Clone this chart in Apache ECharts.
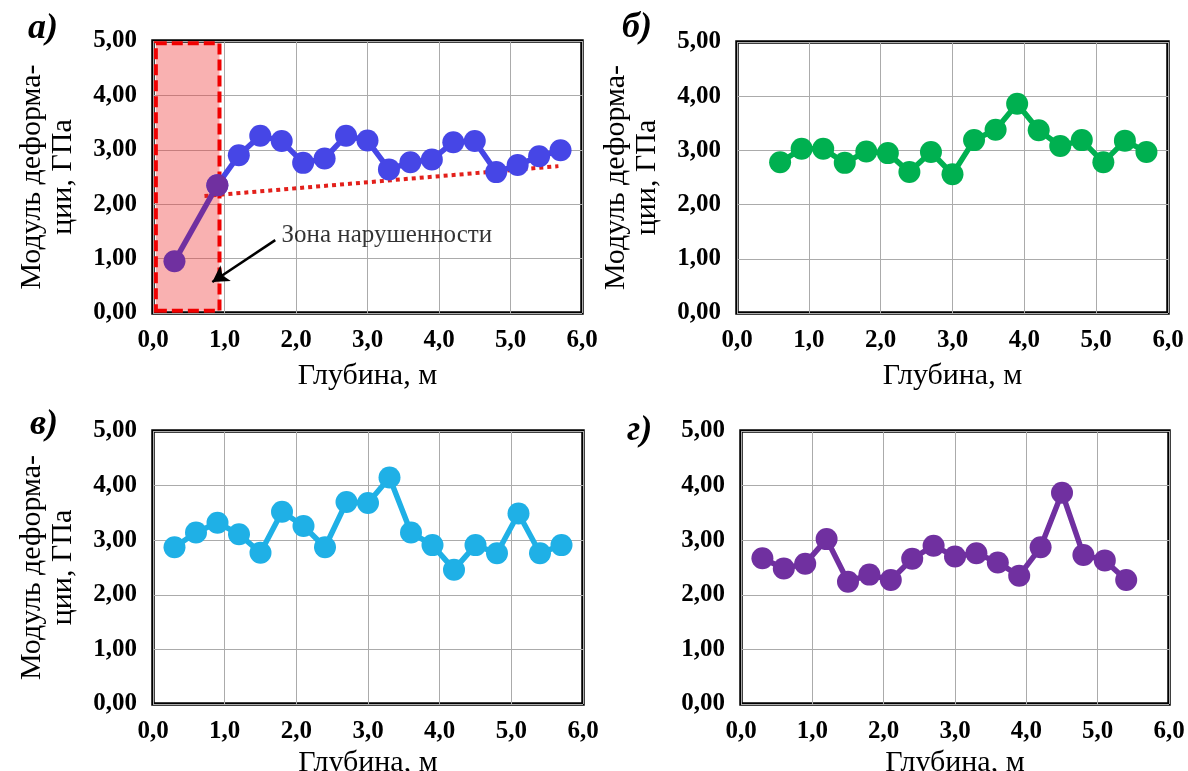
<!DOCTYPE html>
<html>
<head>
<meta charset="utf-8">
<script src="https://cdn.jsdelivr.net/npm/echarts@6/dist/echarts.min.js"></script>
<style>
html, body { margin: 0; padding: 0; background: #fff; }
#chart { width: 1188px; height: 771px; }
</style>
</head>
<body>
<div id="chart"></div>
<script>
// подписи делений
var xTickLabels = ["0,0", "1,0", "2,0", "3,0", "4,0", "5,0", "6,0"];
var yTickLabels = ["0,00", "1,00", "2,00", "3,00", "4,00", "5,00"];

// а) зона нарушенности + основной участок
var depthA1 = [0.3, 0.9];
var valuesA1 = [0.95, 2.35];
var depthA2 = [0.9, 1.2, 1.5, 1.8, 2.1, 2.4, 2.7, 3.0, 3.3, 3.6, 3.9, 4.2, 4.5, 4.8, 5.1, 5.4, 5.7];
var valuesA2 = [2.35, 2.90, 3.26, 3.16, 2.76, 2.84, 3.26, 3.17, 2.64, 2.77, 2.82, 3.14, 3.16, 2.59, 2.72, 2.88, 2.99];
var trendDepth = [0.72, 5.67];
var trendValues = [2.15, 2.70];
var zoneDepth = [0.04, 0.93];

// б)
var depthB = [0.6, 0.9, 1.2, 1.5, 1.8, 2.1, 2.4, 2.7, 3.0, 3.3, 3.6, 3.9, 4.2, 4.5, 4.8, 5.1, 5.4, 5.7];
var valuesB = [2.78, 3.03, 3.03, 2.77, 2.98, 2.95, 2.60, 2.97, 2.56, 3.19, 3.38, 3.86, 3.37, 3.08, 3.19, 2.78, 3.18, 2.97];

// в)
var depthC = [0.3, 0.6, 0.9, 1.2, 1.5, 1.8, 2.1, 2.4, 2.7, 3.0, 3.3, 3.6, 3.9, 4.2, 4.5, 4.8, 5.1, 5.4, 5.7];
var valuesC = [2.87, 3.14, 3.32, 3.11, 2.77, 3.52, 3.26, 2.87, 3.70, 3.68, 4.15, 3.14, 2.91, 2.46, 2.91, 2.76, 3.49, 2.76, 2.91];

// г)
var depthD = [0.3, 0.6, 0.9, 1.2, 1.5, 1.8, 2.1, 2.4, 2.7, 3.0, 3.3, 3.6, 3.9, 4.2, 4.5, 4.8, 5.1, 5.4];
var valuesD = [2.67, 2.48, 2.57, 3.02, 2.24, 2.37, 2.27, 2.66, 2.90, 2.70, 2.76, 2.59, 2.35, 2.87, 3.87, 2.73, 2.63, 2.27];

var FONT = "'Liberation Serif', 'Times New Roman', serif";

function pairs(xs, ys) {
	return xs.map(function(x, i) { return [x, ys[i]]; });
}

var grids = [
	{ left: 153, top: 41, width: 429, height: 272 },
	{ left: 737, top: 42, width: 431, height: 271 },
	{ left: 153, top: 431, width: 430, height: 273 },
	{ left: 741, top: 431, width: 428, height: 273 }
];

var xAxes = [];
var yAxes = [];
grids.forEach(function(g, i) {
	g.show = true;
	g.borderColor = "#000";
	g.borderWidth = 3.5;
	g.backgroundColor = "#fff";
	g.outerBoundsMode = "none";
	g.containLabel = false;
	xAxes.push({
		gridIndex: i, type: "value", min: 0, max: 6, interval: 1,
		name: "Глубина, м", nameLocation: "middle", nameGap: i < 2 ? 48 : 44,
		nameTextStyle: { fontFamily: FONT, fontSize: 30, color: "#000" },
		axisLine: { show: false }, axisTick: { show: false },
		axisLabel: {
			fontFamily: FONT, fontSize: 25, fontWeight: "bold", color: "#000", margin: 15,
			formatter: function(v) { return xTickLabels[Math.round(v)]; }
		},
		splitLine: { show: true, lineStyle: { color: "#ababab", width: 1 } }
	});
	yAxes.push({
		gridIndex: i, type: "value", min: 0, max: 5, interval: 1,
		name: i === 3 ? "" : "Модуль деформа-\nции, ГПа",
		nameLocation: "middle", nameGap: 74, nameRotate: 90,
		nameTextStyle: { fontFamily: FONT, fontSize: 30, color: "#000", lineHeight: 31, align: "center" },
		axisLine: { show: false }, axisTick: { show: false },
		axisLabel: {
			fontFamily: FONT, fontSize: 25, fontWeight: "bold", color: "#000", margin: 16,
			formatter: function(v) { return yTickLabels[Math.round(v)]; }
		},
		splitLine: { show: true, lineStyle: { color: "#ababab", width: 1 } }
	});
});

function lineSeries(idx, data, color, z) {
	return {
		type: "line", xAxisIndex: idx, yAxisIndex: idx, data: data,
		symbol: "circle", symbolSize: 22, z: z || 3,
		lineStyle: { color: color, width: 5.5 },
		itemStyle: { color: color },
		emphasis: { disabled: true },
		animation: false
	};
}

var series = [
	// зона нарушенности и линия тренда
	{
		type: "line", xAxisIndex: 0, yAxisIndex: 0, z: 1,
		data: pairs(trendDepth, trendValues), symbol: "none",
		lineStyle: { color: "#e3201b", width: 4, type: [4, 4] },
		markArea: {
			silent: true,
			itemStyle: { color: "rgba(240,60,60,0.4)", borderColor: "#f00000", borderWidth: 4, borderType: [11, 5] },
			data: [[{ coord: [zoneDepth[0], 0.04] }, { coord: [zoneDepth[1], 4.96] }]]
		},
		animation: false
	},
	lineSeries(0, pairs(depthA2, valuesA2), "#4646e6", 3),
	lineSeries(0, pairs(depthA1, valuesA1), "#7030a0", 4),
	{
		type: "scatter", xAxisIndex: 0, yAxisIndex: 0, z: 5,
		data: [[1.77, 1.42]], symbolSize: 0, silent: true,
		label: { show: true, position: "right", distance: 2, formatter: "Зона нарушенности",
			fontFamily: FONT, fontSize: 25, color: "#000" },
		markLine: {
			silent: true, symbol: ["none", "arrow"], symbolSize: [14, 16],
			lineStyle: { color: "#000", width: 2.5, type: "solid" },
			label: { show: false },
			data: [[{ coord: [1.71, 1.34] }, { coord: [0.83, 0.57] }]]
		},
		animation: false
	},
	lineSeries(1, pairs(depthB, valuesB), "#00b050"),
	lineSeries(2, pairs(depthC, valuesC), "#1fb0e6"),
	lineSeries(3, pairs(depthD, valuesD), "#7030a0")
];

var letterStyle = { fontFamily: FONT, fontSize: 36, fontWeight: "bold", fontStyle: "italic", fill: "#000", textVerticalAlign: "middle" };
function letter(txt, x, y) {
	return { type: "text", x: x, y: y, style: Object.assign({ text: txt }, letterStyle) };
}

var chart = echarts.init(document.getElementById("chart"));
chart.setOption({
	backgroundColor: "#fff",
	animation: false,
	grid: grids,
	xAxis: xAxes,
	yAxis: yAxes,
	series: series,
	graphic: [
		letter("а)", 28, 29),
		letter("б)", 622, 28),
		letter("в)", 30, 425),
		letter("г)", 627, 431)
	]
});
</script>
</body>
</html>
